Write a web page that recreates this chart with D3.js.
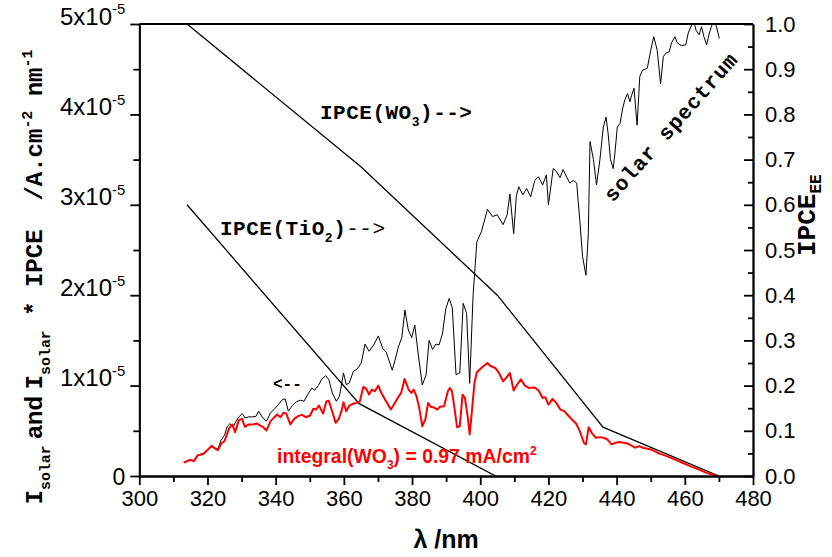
<!DOCTYPE html>
<html>
<head>
<meta charset="utf-8">
<script src="https://cdn.jsdelivr.net/npm/d3@7"></script>
<style>
  html, body { margin: 0; padding: 0; background: #fff; }
  svg text { white-space: pre; }
</style>
</head>
<body>
<div id="chart"></div>
<script>
// solar spectrum (units of 1e-5 A.cm-2.nm-1)
const solarWl = [313,314.8,316,317.1,318.8,320,321.2,322.3,323.1,324,325,325.8,326.6,327.5,328.3,329.2,330.2,331,332.1,333.3,334.2,335,336.2,337.3,338.5,339.7,340.8,342,342.8,343.7,344.9,346,347.2,348.3,349.5,350.6,351.4,352.5,353.5,354.7,355.6,356.6,357.8,358.7,359.9,360.7,361.6,362.8,363.9,365.1,366.2,367.4,368.6,370.1,371.4,372.4,373.5,374.2,375,376,377,377.9,378.9,379.9,380.8,381.8,383,384.1,385,386,387,387.9,388.9,389.9,390.9,391.8,392.9,394,395,396,396.9,397.9,399,400.3,401.2,402.1,403.6,405,406.7,407.9,408.7,409.8,410.6,411.3,412.5,413.6,414.8,416,417.1,418.3,419.4,420,421.4,422.3,423.4,424.3,425.3,426.3,427.3,428.3,428.7,429.2,430,431,431.7,432.2,433.2,434.1,435.1,436.1,436.9,437.5,438.2,439,439.5,440.2,441,441.8,442.4,443.2,443.9,444.4,445.1,446,446.8,447.6,449,450,450.9,451.9,452.9,453.7,454.5,455.4,456.1,457.1,457.8,459,460.3,461,462,462.5,463.3,464.2,464.9,465.6,466.4,467.2,467.8,468.5,469.3,470.1];
const solarVal = [0.15,0.18,0.17,0.23,0.25,0.29,0.34,0.31,0.30,0.40,0.45,0.55,0.58,0.54,0.60,0.654,0.69,0.643,0.654,0.654,0.66,0.717,0.643,0.607,0.699,0.743,0.79,0.846,0.853,0.717,0.779,0.82,0.838,0.827,0.908,0.974,0.949,1.00,1.07,1.11,1.066,0.919,0.827,0.882,1.14,1.01,1.03,1.158,1.184,1.25,1.46,1.38,1.44,1.55,1.41,1.37,1.25,1.17,1.28,1.43,1.53,1.836,1.615,1.53,1.67,1.35,1.007,1.117,1.50,1.40,1.46,1.45,1.57,1.85,1.965,1.86,1.12,1.14,1.91,1.80,1.025,2.0,2.59,2.70,2.82,2.95,2.87,2.89,2.78,2.89,3.12,2.68,3.10,3.20,3.11,3.18,3.09,3.27,3.31,3.22,3.33,3.00,3.40,3.37,3.30,3.39,3.31,3.24,3.27,3.24,3.05,2.83,2.43,2.22,2.68,3.70,3.50,3.22,3.50,3.86,3.97,3.79,3.50,3.40,3.57,3.86,3.90,4.07,4.16,4.23,4.14,4.21,4.29,3.88,4.42,4.49,4.51,4.71,4.86,4.71,4.34,4.64,4.68,4.69,4.79,4.86,4.79,4.76,4.77,4.90,4.99,5.05,4.93,4.88,4.97,4.86,4.77,4.90,4.97,5.05,4.97,4.84];

// solar * IPCE(WO3) (units of 1e-5)
const productWl = [313.1,314.8,316,317.1,318.8,320,321.2,322.3,323.1,324,325,326.4,327.3,328.1,329.2,330.1,331,332.1,333.3,334.5,335.4,336.2,337.3,338.5,339.7,340.5,341.4,342.3,343.1,344.3,345.4,346.6,347.7,348.9,350.1,351,351.8,352.7,353.9,354.9,355.6,356.4,357.6,358.5,359.3,359.9,360.7,361.6,362.8,363.9,364.7,365.7,366.6,367.4,368.2,369.1,370.1,370.9,372,373.8,374.7,375.8,376.8,377.8,379,379.8,380.5,381.3,382.1,383,383.9,384.7,385.5,386.5,387.4,388.2,389.4,390.5,391.1,391.7,392.3,393.2,394,394.8,395.5,396.3,396.9,397.6,398.3,399,400.3,402.1,402.9,404.4,405.5,406.7,407.6,408.7,409.8,410.8,411.9,413.1,414.2,416,417.1,418.3,419.1,420,421.2,422.3,423.5,424.6,425.8,426.9,428.1,429.2,430.4,431,431.8,432.7,433.9,435,436.2,437.3,438.5,439.7,440.8,442,443.1,444.3,445.4,446.6,447.7,450.1,452.4,454.7,457,459.3,461.6,464,466.2,469.5];
const productVal = [0.147,0.176,0.165,0.228,0.243,0.287,0.331,0.301,0.287,0.36,0.386,0.533,0.57,0.485,0.618,0.632,0.544,0.57,0.57,0.58,0.559,0.544,0.504,0.607,0.654,0.68,0.65,0.699,0.691,0.57,0.632,0.662,0.676,0.65,0.669,0.743,0.735,0.779,0.691,0.827,0.831,0.735,0.588,0.632,0.717,0.816,0.717,0.779,0.801,0.809,0.827,0.985,0.963,0.90,0.956,0.9375,1.0,0.926,0.853,0.735,0.79,0.864,0.919,1.074,0.956,0.919,0.956,0.882,0.754,0.551,0.625,0.809,0.765,0.757,0.735,0.765,0.772,0.9375,0.974,0.9375,0.79,0.54,0.551,0.90,0.864,0.662,0.46,0.735,1.03,1.147,1.195,1.25,1.22,1.195,1.14,1.048,1.085,1.14,0.945,1.01,1.07,1.0,0.974,0.98,0.945,0.864,0.871,0.79,0.853,0.809,0.735,0.717,0.669,0.625,0.581,0.496,0.368,0.349,0.54,0.478,0.423,0.43,0.423,0.404,0.349,0.368,0.375,0.368,0.36,0.338,0.3125,0.331,0.3125,0.294,0.25,0.22,0.184,0.147,0.11,0.074,0.037,0.0];

// IPCE curves (right axis)
const ipceWO3Wl = [314, 365, 405, 436, 470];
const ipceWO3Val = [1.0, 0.684, 0.40, 0.108, 0.0];
const ipceTiO2Wl = [314, 364.5, 404.5];
const ipceTiO2Val = [0.60, 0.16, 0.0];

const xMajorTicks = [300, 320, 340, 360, 380, 400, 420, 440, 460, 480];
const xMinorTicks = [310, 330, 350, 370, 390, 410, 430, 450, 470];
const yLeftMajorTicks = [0, 1, 2, 3, 4, 5];
const yLeftMinorTicks = [0.5, 1.5, 2.5, 3.5, 4.5];
const yRightMajorTicks = [0, 0.1, 0.2, 0.3, 0.4, 0.5, 0.6, 0.7, 0.8, 0.9, 1.0];
const yRightMinorTicks = [0.05, 0.15, 0.25, 0.35, 0.45, 0.55, 0.65, 0.75, 0.85, 0.95];

const W = 832, H = 557;
const plot = {left: 139.3, right: 753, top: 24, bottom: 476};
const SANS = "'Liberation Sans', Arial, sans-serif";
const MONO = "'Liberation Mono', 'Courier New', monospace";

let svg = d3.select("#chart").append("svg")
    .attr("width", W).attr("height", H)
    .style("font-family", SANS);

let x = d3.scaleLinear().domain([300, 480]).range([plot.left, plot.right]);
let yLeft = d3.scaleLinear().domain([0, 5]).range([plot.bottom, plot.top]);
let yRight = d3.scaleLinear().domain([0, 1]).range([plot.bottom, plot.top]);

// writes a list of {t, sub|sup, font, weight} runs as tspans
let _richText = function(textSel, parts, size, subShift) {
    let shift = 0;
    let down = subShift === undefined ? 0.32 : subShift;
    parts.forEach(function(p) {
        let target = p.sub ? size * down : (p.sup ? -size * 0.42 : 0);
        let ts = textSel.append("tspan")
            .attr("dy", target - shift)
            .style("font-size", (p.sub || p.sup ? size * 0.62 : size) + "px")
            .text(p.t);
        if (p.font) ts.style("font-family", p.font);
        if (p.weight) ts.style("font-weight", p.weight);
        shift = target;
    });
};

svg.append("clipPath").attr("id", "clip")
    .append("rect")
    .attr("x", plot.left).attr("y", plot.top)
    .attr("width", plot.right - plot.left).attr("height", plot.bottom - plot.top);

let g = svg.append("g").attr("clip-path", "url(#clip)");

let lineOf = function(wl, vals, yScale) {
    return d3.line().x(d => x(d[0])).y(d => yScale(d[1]))(d3.zip(wl, vals));
};

g.append("path").attr("d", lineOf(ipceWO3Wl, ipceWO3Val, yRight))
    .attr("fill", "none").attr("stroke", "#000").attr("stroke-width", 1.3);
g.append("path").attr("d", lineOf(ipceTiO2Wl, ipceTiO2Val, yRight))
    .attr("fill", "none").attr("stroke", "#000").attr("stroke-width", 1.3);
g.append("path").attr("d", lineOf(solarWl, solarVal, yLeft))
    .attr("fill", "none").attr("stroke", "#000").attr("stroke-width", 1)
    .attr("stroke-linejoin", "round");
g.append("path").attr("d", lineOf(productWl, productVal, yLeft))
    .attr("fill", "none").attr("stroke", "#ff0000").attr("stroke-width", 2)
    .attr("stroke-linejoin", "round");

// axes
let styleAxis = function(sel, size) {
    sel.selectAll("path,line").attr("stroke", "#000").attr("stroke-width", 1.8);
    sel.selectAll("text").attr("fill", "#000").style("font-family", SANS).style("font-size", (size || 22) + "px");
};

svg.append("g").attr("transform", "translate(0," + plot.bottom + ")")
    .call(d3.axisBottom(x).tickValues(xMinorTicks).tickSize(6).tickFormat("").tickSizeOuter(0))
    .call(styleAxis);
svg.append("g").attr("transform", "translate(0," + plot.bottom + ")")
    .call(d3.axisBottom(x).tickValues(xMajorTicks).tickSize(9).tickPadding(5).tickSizeOuter(0))
    .call(styleAxis);

svg.append("g").attr("transform", "translate(" + plot.left + ",0)")
    .call(d3.axisLeft(yLeft).tickValues(yLeftMinorTicks).tickSize(6).tickFormat("").tickSizeOuter(0))
    .call(styleAxis);
let leftAxis = svg.append("g").attr("transform", "translate(" + plot.left + ",0)")
    .call(d3.axisLeft(yLeft).tickValues(yLeftMajorTicks).tickSize(9).tickPadding(5).tickSizeOuter(0))
    .call(styleAxis, 23);
leftAxis.selectAll(".tick text").each(function(d) {
    let t = d3.select(this);
    t.text(null).attr("dy", "0.36em");
    if (d === 0) { t.text("0"); return; }
    _richText(t, [{t: d + "x10"}, {t: "-5", sup: true}], 24);
});

svg.append("g").attr("transform", "translate(" + plot.right + ",0)")
    .call(d3.axisRight(yRight).tickValues(yRightMinorTicks).tickSize(-5).tickFormat("").tickSizeOuter(0))
    .call(styleAxis);
svg.append("g").attr("transform", "translate(" + plot.right + ",0)")
    .call(d3.axisRight(yRight).tickValues(yRightMajorTicks).tickSize(-9).tickPadding(12)
        .tickFormat(d3.format(".1f")).tickSizeOuter(0))
    .call(styleAxis);

svg.append("line")
    .attr("x1", plot.left).attr("x2", plot.right)
    .attr("y1", plot.top).attr("y2", plot.top)
    .attr("stroke", "#000").attr("stroke-width", 2.2);

// axis titles
svg.append("text")
    .attr("x", x(390)).attr("y", 548)
    .attr("text-anchor", "middle")
    .style("font-size", "25px").style("font-weight", "bold")
    .text("\u03bb /nm");

let leftTitle = svg.append("text")
    .attr("transform", "translate(42,277) rotate(-90)")
    .attr("text-anchor", "middle")
    .style("font-family", MONO).style("font-weight", "bold");
_richText(leftTitle, [
    {t: "I"}, {t: "solar", sub: true},
    {t: " and ", font: SANS},
    {t: "I"}, {t: "solar", sub: true},
    {t: " * IPCE  /A.cm"}, {t: "-2", sup: true},
    {t: " nm"}, {t: "-1", sup: true}
], 24);

let rightTitle = svg.append("text")
    .attr("transform", "translate(815,256) rotate(-90)")
    .style("font-family", MONO).style("font-weight", "bold");
_richText(rightTitle, [{t: "IPCE"}, {t: "EE", sub: true}], 26, 0.22);

// annotations
let wo3Label = svg.append("text").attr("x", 320).attr("y", 119)
    .style("font-family", MONO).style("font-weight", "bold").style("letter-spacing", "0.5px");
_richText(wo3Label, [{t: "IPCE(WO"}, {t: "3", sub: true}, {t: ")-->"}], 21);

let tio2Label = svg.append("text").attr("x", 220).attr("y", 235)
    .style("font-family", MONO).style("letter-spacing", "0.5px");
_richText(tio2Label, [{t: "IPCE(TiO", weight: "bold"}, {t: "2", sub: true, weight: "bold"},
    {t: ")", weight: "bold"}, {t: "-->"}], 21);

svg.append("text").attr("x", 273).attr("y", 389)
    .style("font-family", MONO).style("font-weight", "bold").style("font-size", "16px")
    .text("<--");

svg.append("text")
    .attr("transform", "translate(613,203) rotate(-48.6)")
    .style("font-family", MONO).style("font-weight", "bold").style("font-size", "21px")
    .style("letter-spacing", "1px")
    .text("solar spectrum");

let integralLabel = svg.append("text").attr("x", 277).attr("y", 463)
    .attr("fill", "#ff0000").style("font-weight", "bold");
_richText(integralLabel, [{t: "integral(WO"}, {t: "3", sub: true},
    {t: ") = 0.97 mA/cm"}, {t: "2", sup: true}], 19.4);
</script>
</body>
</html>
